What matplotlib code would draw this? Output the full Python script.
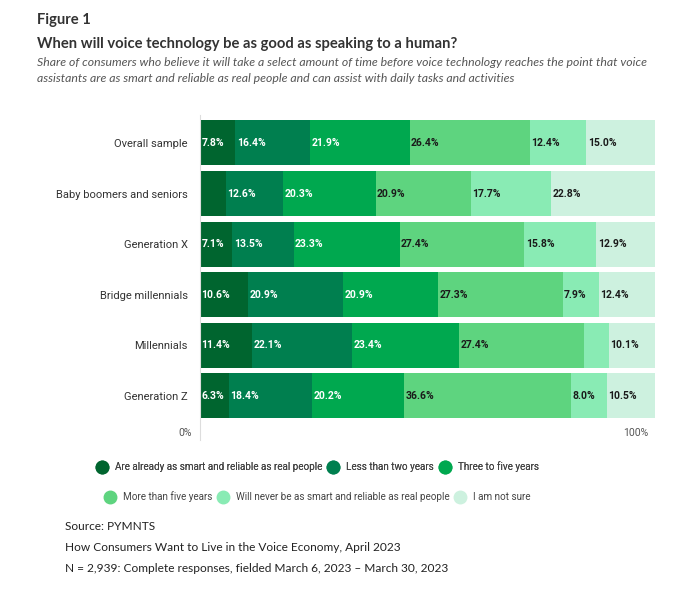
import matplotlib.pyplot as plt
from matplotlib.lines import Line2D

groups = ['Overall sample', 'Baby boomers and seniors', 'Generation X',
          'Bridge millennials', 'Millennials', 'Generation Z']
series = ['Are already as smart and reliable as real people', 'Less than two years',
          'Three to five years', 'More than five years',
          'Will never be as smart and reliable as real people', 'I am not sure']
already = [7.8, 5.7, 7.1, 10.6, 11.4, 6.3]
lt_two = [16.4, 12.6, 13.5, 20.9, 22.1, 18.4]
three_five = [21.9, 20.3, 23.3, 20.9, 23.4, 20.2]
gt_five = [26.4, 20.9, 27.4, 27.3, 27.4, 36.6]
never = [12.4, 17.7, 15.8, 7.9, 5.6, 8.0]
not_sure = [15.0, 22.8, 12.9, 12.4, 10.1, 10.5]
# (row, series) segments left without a label in the original
hidden = {(1, 0), (4, 4)}

values = [already, lt_two, three_five, gt_five, never, not_sure]
colors = ['#00652f', '#007f4f', '#00a84f', '#5ed47f', '#89ebb4', '#cdf1df']
txt_colors = ['white', 'white', 'white', '#1a1a1a', '#1a1a1a', '#1a1a1a']

fig = plt.figure(figsize=(6.82, 6.04), dpi=100)
ax = fig.add_axes([200 / 682, 1 - 440 / 604, 455 / 682, 325 / 604])

ypos = list(range(len(groups)))
left = [0.0] * len(groups)
for j, vals in enumerate(values):
    ax.barh(ypos, vals, left=left, height=0.89, color=colors[j], edgecolor='none')
    for i, v in enumerate(vals):
        if (i, j) not in hidden:
            ax.text(left[i] + 0.3, i, f'{v:.1f}%', va='center', ha='left',
                    fontsize=7.5, fontweight='bold', color=txt_colors[j],
                    family='Roboto')
    left = [a + b for a, b in zip(left, vals)]

ax.set_xlim(0, 100)
ax.set_ylim(5.87, -0.553)
ax.set_yticks(ypos)
ax.set_yticklabels(groups, fontsize=8, family='Roboto', color='#333333')
ax.tick_params(axis='y', length=0, pad=9)
ax.set_xticks([])
for s in ['top', 'right', 'bottom']:
    ax.spines[s].set_visible(False)
ax.spines['left'].set_color('#dddddd')

fig.text(192 / 682, 1 - 433 / 604, '0%', ha='right', va='center', fontsize=7.5,
         family='Roboto', color='#555555')
fig.text(648 / 682, 1 - 433 / 604, '100%', ha='right', va='center', fontsize=7.5,
         family='Roboto', color='#555555')

fig.text(37 / 682, 1 - 20 / 604, 'Figure 1', fontsize=10.6, fontweight='bold',
         family='Lato', color='#333333', va='center')
fig.text(37 / 682, 1 - 44 / 604, 'When will voice technology be as good as speaking to a human?',
         fontsize=10.6, fontweight='bold', family='Lato', color='#333333', va='center')
fig.text(37 / 682, 1 - 62 / 604,
         'Share of consumers who believe it will take a select amount of time before voice technology reaches the point that voice',
         fontsize=8.8, style='italic', family='Lato', color='#555555', va='center')
fig.text(37 / 682, 1 - 79 / 604,
         'assistants are as smart and reliable as real people and can assist with daily tasks and activities',
         fontsize=8.8, style='italic', family='Lato', color='#555555', va='center')

handles = [Line2D([], [], marker='o', ls='none', markersize=9, color=c) for c in colors]
leg_kw = dict(ncol=3, frameon=False, loc='center', handletextpad=0.8,
              columnspacing=0.6, handlelength=1.0,
              prop={'family': 'Roboto', 'size': 7.1})
leg1 = fig.legend(handles[:3], series[:3], bbox_to_anchor=(318 / 682, 1 - 467 / 604), **leg_kw)
leg2 = fig.legend(handles[3:], series[3:], bbox_to_anchor=(318 / 682, 1 - 497 / 604), **leg_kw)
for lg in (leg1, leg2):
    for t in lg.get_texts():
        t.set_color('#444444')
fig.add_artist(leg1)

foot = ['Source: PYMNTS',
        'How Consumers Want to Live in the Voice Economy, April 2023',
        'N = 2,939: Complete responses, fielded March 6, 2023 \u2013 March 30, 2023']
for k, line in enumerate(foot):
    fig.text(65 / 682, 1 - (527 + 20.5 * k) / 604, line, fontsize=8.6, family='Lato',
             color='#222222', va='center')

fig.savefig('out.png', dpi=100)
